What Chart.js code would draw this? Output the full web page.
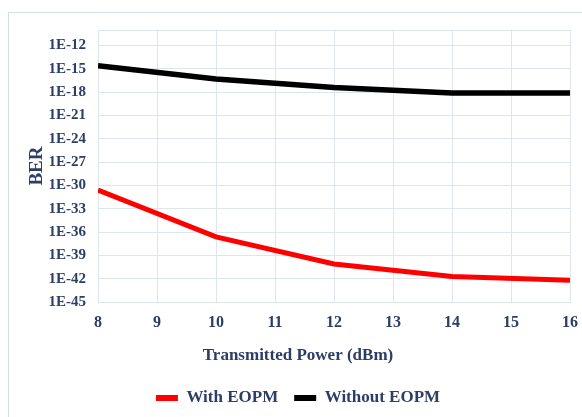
<!DOCTYPE html>
<html>
<head>
<meta charset="utf-8">
<script src="https://cdn.jsdelivr.net/npm/chart.js@4.4.0/dist/chart.umd.min.js"></script>
<style>
  html, body { margin: 0; padding: 0; background: #ffffff; width: 582px; height: 417px; overflow: hidden; }
  #frame { position: absolute; left: 8px; top: 12px; width: 600px; height: 430px; border: 1.5px solid #d3dce8; box-sizing: border-box; }
  #wrap { position: absolute; left: 0; top: 0; width: 582px; height: 417px; }
</style>
</head>
<body>
<div id="frame"></div>
<div id="wrap"><canvas id="c" width="582" height="417"></canvas></div>
<script>
// ---- data ----
const powerDbm = [8, 10, 12, 14, 16];
const berWithEOPM = [2.5e-31, 2.5e-37, 8e-41, 2e-42, 6.3e-43];
const berWithoutEOPM = [2.5e-15, 5e-17, 4e-18, 8e-19, 8e-19];
const seriesNames = ['With EOPM', 'Without EOPM'];
const yTickExponents = [-45, -42, -39, -36, -33, -30, -27, -24, -21, -18, -15, -12];
const yTopExponent = -10;
const xTitle = 'Transmitted Power (dBm)';
const yTitle = 'BER';

const textColor = '#2c3d66';
const gridColor = '#dfe5ee';
const serif = "'Liberation Serif', 'Times New Roman', serif";

const toPoints = (xs, ys) => xs.map((x, i) => ({ x: x, y: ys[i] }));

new Chart(document.getElementById('c'), {
  type: 'line',
  data: {
    datasets: [
      { label: seriesNames[0], data: toPoints(powerDbm, berWithEOPM), borderColor: '#ff0000', backgroundColor: '#ff0000', borderWidth: 5, pointRadius: 0, tension: 0 },
      { label: seriesNames[1], data: toPoints(powerDbm, berWithoutEOPM), borderColor: '#000000', backgroundColor: '#000000', borderWidth: 5.5, pointRadius: 0, tension: 0 }
    ]
  },
  options: {
    responsive: false,
    animation: false,
    layout: { padding: { left: 26, right: 12, top: 30, bottom: 0.5 } },
    scales: {
      x: {
        type: 'linear', min: 8, max: 16,
        ticks: { stepSize: 1, color: textColor, padding: 11.5, font: { family: serif, size: 16, weight: 'bold' } },
        grid: { color: gridColor, drawTicks: false },
        border: { color: gridColor },
        afterFit: s => { s.height = 32; s.paddingLeft = 0; s.paddingRight = 0; }
      },
      y: {
        type: 'logarithmic', min: Math.pow(10, -45), max: Math.pow(10, yTopExponent),
        afterBuildTicks: s => { s.ticks = yTickExponents.concat([yTopExponent]).map(e => ({ value: Math.pow(10, e) })); },
        ticks: {
          color: textColor, padding: 12, font: { family: serif, size: 15, weight: 'bold' },
          callback: v => { const e = Math.round(Math.log10(v)); return e === yTopExponent ? '' : '1E' + e; }
        },
        grid: { color: gridColor, drawTicks: false },
        border: { color: gridColor },
        title: { display: true, text: yTitle, color: textColor, padding: { top: 0, bottom: 0 }, font: { family: serif, size: 19, weight: 'bold' } },
        afterFit: s => { s.width = 72; s.paddingTop = 0; s.paddingBottom = 0; }
      }
    },
    plugins: {
      title: {
        display: true, position: 'bottom', weight: 500, text: xTitle, color: textColor,
        padding: { top: 11, bottom: 8 }, font: { family: serif, size: 17, weight: 'bold' }
      },
      legend: {
        position: 'bottom',
        labels: {
          color: textColor, boxWidth: 22, boxHeight: 6, padding: 16,
          font: { family: serif, size: 17, weight: 'bold' },
          generateLabels: chart => Chart.defaults.plugins.legend.labels.generateLabels(chart).map(l => Object.assign(l, { lineWidth: 0 }))
        }
      },
      tooltip: { enabled: false }
    }
  }
});
</script>
</body>
</html>
